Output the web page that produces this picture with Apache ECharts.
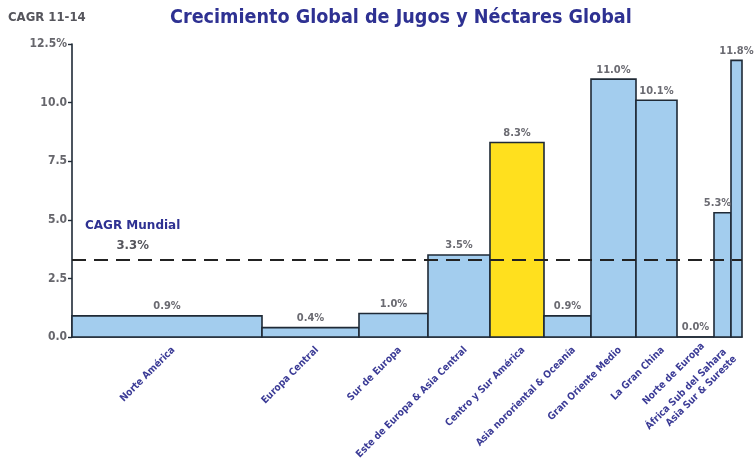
<!DOCTYPE html>
<html>
<head>
<meta charset="utf-8">
<script src="https://cdn.jsdelivr.net/npm/echarts@6/dist/echarts.min.js"></script>
<style>
  html, body { margin: 0; padding: 0; background: #ffffff; }
  #chart { width: 754px; height: 464px; }
</style>
</head>
<body>
<div id="chart"></div>
<script>
// Regions, growth rate (CAGR 2011-14, %) and relative market size (bar width)
const regions = [
  'Norte América', 'Europa Central', 'Sur de Europa', 'Este de Europa & Asia Central',
  'Centro y Sur América', 'Asia nororiental & Oceanía', 'Gran Oriente Medio',
  'La Gran China', 'Norte de Europa', 'África Sub del Sahara', 'Asia Sur & Sureste'
];
const cagr = [0.9, 0.4, 1.0, 3.5, 8.3, 0.9, 11.0, 10.1, 0.0, 5.3, 11.8];
const marketSize = [190, 97, 69, 62, 54, 47, 45, 41, 37, 17, 11];
const worldCagr = 3.3;
const highlighted = 'Centro y Sur América';
const yTicks = [0, 2.5, 5, 7.5, 10, 12.5];

// cumulative x extents for the variable-width bars
const bars = [];
let acc = 0;
regions.forEach((r, i) => {
  bars.push([acc, acc + marketSize[i], cagr[i], i]);
  acc += marketSize[i];
});
const totalSize = acc;

const COND = '"DejaVu Sans Condensed", "Liberation Sans", sans-serif';

// extra shift for the crowded labels at the right end
const labelShift = { 8: [4, -4], 9: [-1, 2], 10: [-5, 9] };
const valueShift = { 9: -5 };

const BLUE = '#a3cdee';
const YELLOW = '#ffe01e';
const EDGE = '#1f2a36';

function renderBar(params, api) {
  const x0 = api.value(0), x1 = api.value(1), v = api.value(2), idx = api.value(3);
  const pTop = api.coord([x0, v]);
  const pBot = api.coord([x1, 0]);
  const cx = (pTop[0] + pBot[0]) / 2;
  const sh = labelShift[idx] || [3, 0];
  const children = [
    {
      type: 'rect',
      shape: { x: pTop[0], y: pTop[1], width: pBot[0] - pTop[0], height: pBot[1] - pTop[1] },
      style: { fill: regions[idx] === highlighted ? YELLOW : BLUE, stroke: EDGE, lineWidth: 1.6 }
    },
    {
      type: 'text', z2: 20,
      x: cx + (valueShift[idx] || 0), y: pTop[1] - 4,
      style: {
        text: v.toFixed(1) + '%', align: 'center', verticalAlign: 'bottom',
        fill: '#6b6b72', font: 'bold 11px ' + COND
      }
    },
    {
      type: 'text', z2: 20,
      x: cx + sh[0], y: pBot[1] + 8 + sh[1],
      rotation: Math.PI / 4,
      style: {
        text: regions[idx], align: 'right', verticalAlign: 'top',
        fill: '#3b3b96', font: 'bold 10px ' + COND
      }
    }
  ];
  return { type: 'group', children };
}

const chart = echarts.init(document.getElementById('chart'));
chart.setOption({
  backgroundColor: '#ffffff',
  animation: false,
  graphic: [
    {
      type: 'text', left: 8, top: 11,
      style: { text: 'CAGR 11-14', fill: '#55555c', font: 'bold 13px ' + COND }
    },
    {
      type: 'text', left: 170, top: 8,
      style: { text: 'Crecimiento Global de Jugos y Néctares Global', fill: '#2e3192', font: 'bold 19.6px ' + COND }
    }
  ],
  grid: { left: 72, right: 12, top: 44, bottom: 127 },
  xAxis: {
    type: 'value', min: 0, max: totalSize,
    axisLine: { show: true, onZero: false, lineStyle: { color: EDGE, width: 1.6 } },
    axisTick: { show: false }, axisLabel: { show: false }, splitLine: { show: false }
  },
  yAxis: {
    type: 'value', min: yTicks[0], max: yTicks[yTicks.length - 1], interval: 2.5,
    axisLine: { show: true, lineStyle: { color: EDGE, width: 1.6 } },
    axisTick: { show: true, length: 4, lineStyle: { color: EDGE, width: 1.4 } },
    splitLine: { show: false },
    axisLabel: {
      margin: 5, color: '#66666c', fontWeight: 'bold', fontSize: 12, fontFamily: COND,
      formatter: v => v === yTicks[yTicks.length - 1] ? v.toFixed(1) + '%' : v.toFixed(1)
    }
  },
  series: [{
    type: 'custom',
    renderItem: renderBar,
    data: bars,
    encode: { x: [0, 1], y: 2 },
    clip: false,
    z: 2,
    markLine: {
      silent: true, symbol: 'none', z: 5,
      lineStyle: { color: '#222222', width: 2, type: [14, 8] },
      data: [{ yAxis: worldCagr }],
      label: {
        show: true, position: 'insideStartTop', distance: [13, 5],
        formatter: '{a|CAGR Mundial}\n{b|' + worldCagr.toFixed(1) + '%}',
        rich: {
          a: { color: '#2e3192', fontWeight: 'bold', fontSize: 12, fontFamily: '"DejaVu Sans", sans-serif', lineHeight: 22, align: 'left' },
          b: { color: '#55555c', fontWeight: 'bold', fontSize: 13, fontFamily: COND, lineHeight: 18, align: 'center' }
        }
      }
    }
  }]
});
</script>
</body>
</html>
